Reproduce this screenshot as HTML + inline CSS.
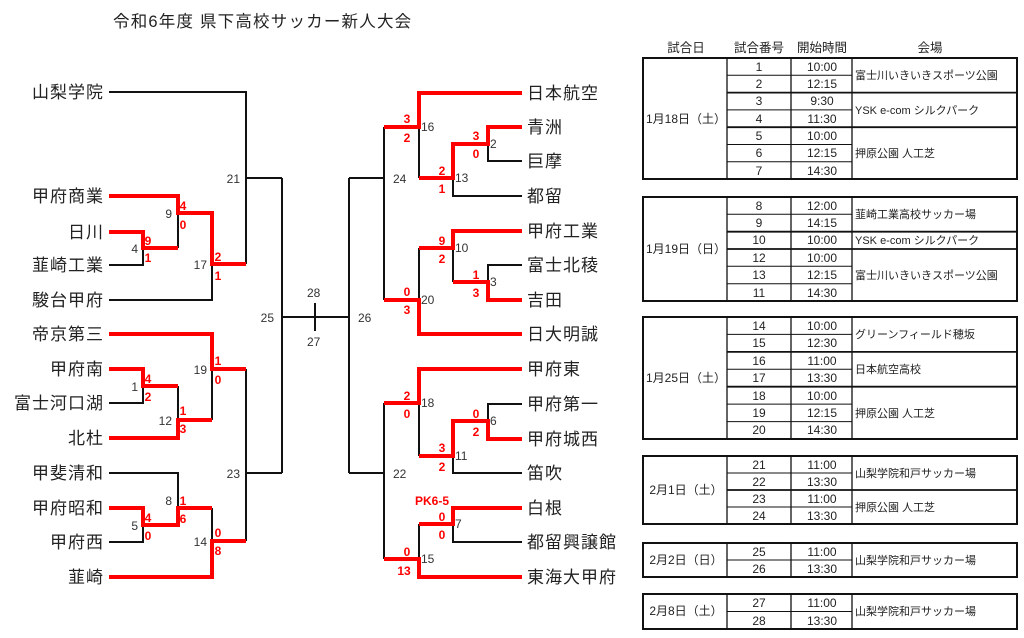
<!DOCTYPE html>
<html><head><meta charset="utf-8"><style>
html,body{margin:0;padding:0;background:#fff;width:1024px;height:638px;overflow:hidden}
svg{display:block;font-family:"Liberation Sans","Noto Sans CJK JP",sans-serif}
.t{font-size:17px;fill:#222;letter-spacing:1px}
.n{font-size:12px;fill:#333}
.s{font-size:12px;fill:#f00;font-weight:bold;text-anchor:middle}
.c{font-size:12px;fill:#222;text-anchor:middle}
.v{font-size:11px;fill:#222}
</style></head><body>
<svg width="1024" height="638" viewBox="0 0 1024 638">
<text x="113" y="27" font-size="16.5" fill="#222" letter-spacing="1.2">令和6年度 県下高校サッカー新人大会</text>

<g fill="none" stroke="#111" stroke-width="2">
<path d="M109 92 H246 V264"/><path d="M246 178 H282"/><path d="M178 213 V248"/>
<path d="M109 265 H143 V248"/><path d="M109 300 H212 V264"/>
<path d="M178 386 V420"/><path d="M109 403 H143 V386"/><path d="M212 369 V420"/>
<path d="M246 369 V541"/><path d="M246 473 H282"/><path d="M109 473 H178 V508"/>
<path d="M212 508 V541"/><path d="M109 542 H143 V525"/>
<path d="M282 178 V473"/><path d="M282 317 H349"/><path d="M315 303 V331"/><path d="M349 178 V473"/>
<path d="M349 178 H384"/><path d="M384 127 V300"/><path d="M419 127 V178"/>
<path d="M522 161 H488 V144"/><path d="M522 196 H453 V178"/><path d="M419 248 V300"/>
<path d="M522 265 H488 V282"/><path d="M453 248 V282"/>
<path d="M349 473 H384"/><path d="M384 403 V559"/><path d="M522 404 H488 V421"/>
<path d="M419 403 V456"/><path d="M522 473 H453 V456"/><path d="M522 542 H453 V524"/><path d="M419 524 V559"/>
</g>
<g fill="none" stroke="#f00" stroke-width="4">
<path d="M109 196 H178 V213 H212 V264 H246"/>
<path d="M109 232 H143 V248 H178"/>
<path d="M109 334 H212 V369 H246"/>
<path d="M109 369 H143 V386 H178"/>
<path d="M109 438 H178 V420 H212"/>
<path d="M109 508 H143 V525 H178 V508 H212"/>
<path d="M109 577 H212 V541 H246"/>
<path d="M522 93 H419 V127 H384"/>
<path d="M522 127 H488 V144 H453 V178 H419"/>
<path d="M522 231 H453 V248 H419"/>
<path d="M522 300 H488 V282 H453"/>
<path d="M522 334 H419 V300 H384"/>
<path d="M522 369 H419 V403 H384"/>
<path d="M522 439 H488 V421 H453 V456 H419"/>
<path d="M522 508 H453 V524 H419"/>
<path d="M522 577 H419 V559 H384"/>
</g>

<g class="t" text-anchor="end">
<text x="104" y="98">山梨学院</text>
<text x="104" y="202">甲府商業</text>
<text x="104" y="238">日川</text>
<text x="104" y="271">韮崎工業</text>
<text x="104" y="306">駿台甲府</text>
<text x="104" y="340">帝京第三</text>
<text x="104" y="375">甲府南</text>
<text x="104" y="409">富士河口湖</text>
<text x="104" y="444">北杜</text>
<text x="104" y="479">甲斐清和</text>
<text x="104" y="514">甲府昭和</text>
<text x="104" y="548">甲府西</text>
<text x="104" y="583">韮崎</text>
</g>
<g class="t">
<text x="527" y="99">日本航空</text>
<text x="527" y="133">青洲</text>
<text x="527" y="167">巨摩</text>
<text x="527" y="202">都留</text>
<text x="527" y="237">甲府工業</text>
<text x="527" y="271">富士北稜</text>
<text x="527" y="306">吉田</text>
<text x="527" y="340">日大明誠</text>
<text x="527" y="375">甲府東</text>
<text x="527" y="410">甲府第一</text>
<text x="527" y="445">甲府城西</text>
<text x="527" y="479">笛吹</text>
<text x="527" y="514">白根</text>
<text x="527" y="548">都留興譲館</text>
<text x="527" y="583">東海大甲府</text>
</g>

<g class="n" text-anchor="end">
<text x="240" y="183">21</text><text x="172" y="218">9</text><text x="138" y="253">4</text><text x="207" y="269">17</text>
<text x="207" y="374">19</text><text x="138" y="391">1</text><text x="172" y="425">12</text>
<text x="240" y="478">23</text><text x="172" y="505">8</text><text x="138" y="530">5</text><text x="207" y="546">14</text>
<text x="274" y="322">25</text>
</g>
<g class="n">
<text x="307" y="297">28</text><text x="307" y="346">27</text>
<text x="358" y="322">26</text><text x="393" y="183">24</text><text x="393" y="478">22</text>
<text x="421" y="131">16</text><text x="490" y="148">2</text><text x="455" y="182">13</text>
<text x="455" y="252">10</text><text x="490" y="286">3</text><text x="421" y="304">20</text>
<text x="421" y="407">18</text><text x="490" y="425">6</text><text x="455" y="460">11</text>
<text x="455" y="528">7</text><text x="421" y="563">15</text>
</g>
<g class="s">
<text x="183" y="210">4</text><text x="183" y="229">0</text>
<text x="148" y="245">9</text><text x="148" y="262">1</text>
<text x="218" y="261">2</text><text x="218" y="280">1</text>
<text x="218" y="365">1</text><text x="218" y="384">0</text>
<text x="148" y="383">4</text><text x="148" y="401">2</text>
<text x="183" y="415">1</text><text x="183" y="433">3</text>
<text x="183" y="505">1</text><text x="183" y="523">6</text>
<text x="148" y="522">4</text><text x="148" y="540">0</text>
<text x="218" y="537">0</text><text x="218" y="555">8</text>
<text x="407" y="123">3</text><text x="407" y="142">2</text>
<text x="476" y="140">3</text><text x="476" y="158">0</text>
<text x="442" y="175">2</text><text x="442" y="193">1</text>
<text x="442" y="245">9</text><text x="442" y="263">2</text>
<text x="476" y="279">1</text><text x="476" y="297">3</text>
<text x="407" y="296">0</text><text x="407" y="314">3</text>
<text x="407" y="400">2</text><text x="407" y="418">0</text>
<text x="476" y="418">0</text><text x="476" y="436">2</text>
<text x="442" y="452">3</text><text x="442" y="471">2</text>
<text x="432" y="505">PK6-5</text>
<text x="442" y="521">0</text><text x="442" y="539">0</text>
<text x="407" y="556">0</text><text x="404" y="575">13</text>
</g>

<g class="c" font-size="12.5">
<text x="686" y="52" font-size="12.5">試合日</text><text x="759" y="52" font-size="12.5">試合番号</text><text x="822" y="52" font-size="12.5">開始時間</text><text x="930" y="52" font-size="12.5">会場</text>
</g>

<g fill="none" stroke="#111">
<rect x="643" y="58" width="374" height="121" stroke-width="2"/>
<path d="M727 58 V179 M791 58 V179 M852 58 V179" stroke-width="1.3"/>
<path d="M727 75.3 H852 M727 109.9 H852 M727 144.5 H852 M727 161.8 H852" stroke-width="1"/>
<path d="M727 92.6 H1017 M727 127.2 H1017" stroke-width="1.8"/>
</g>
<g class="c">
<text x="686" y="123">1月18日（土）</text>
<text x="759" y="71">1</text><text x="822" y="71">10:00</text>
<text x="759" y="88">2</text><text x="822" y="88">12:15</text>
<text x="759" y="105">3</text><text x="822" y="105">9:30</text>
<text x="759" y="123">4</text><text x="822" y="123">11:30</text>
<text x="759" y="140">5</text><text x="822" y="140">10:00</text>
<text x="759" y="157">6</text><text x="822" y="157">12:15</text>
<text x="759" y="175">7</text><text x="822" y="175">14:30</text>
</g>
<g class="v">
<text x="855" y="79">富士川いきいきスポーツ公園</text>
<text x="855" y="114">YSK e-com シルクパーク</text>
<text x="855" y="157">押原公園 人工芝</text>
</g>

<g fill="none" stroke="#111">
<rect x="643" y="197" width="374" height="104" stroke-width="2"/>
<path d="M727 197 V301 M791 197 V301 M852 197 V301" stroke-width="1.3"/>
<path d="M727 214.3 H852 M727 266.3 H852 M727 283.7 H852" stroke-width="1"/>
<path d="M727 231.7 H1017 M727 249 H1017" stroke-width="1.8"/>
</g>
<g class="c">
<text x="686" y="253">1月19日（日）</text>
<text x="759" y="210">8</text><text x="822" y="210">12:00</text>
<text x="759" y="227">9</text><text x="822" y="227">14:15</text>
<text x="759" y="244">10</text><text x="822" y="244">10:00</text>
<text x="759" y="262">12</text><text x="822" y="262">10:00</text>
<text x="759" y="279">13</text><text x="822" y="279">12:15</text>
<text x="759" y="297">11</text><text x="822" y="297">14:30</text>
</g>
<g class="v">
<text x="855" y="218">韮崎工業高校サッカー場</text>
<text x="855" y="244">YSK e-com シルクパーク</text>
<text x="855" y="279">富士川いきいきスポーツ公園</text>
</g>

<g fill="none" stroke="#111">
<rect x="643" y="317" width="374" height="122" stroke-width="2"/>
<path d="M727 317 V439 M791 317 V439 M852 317 V439" stroke-width="1.3"/>
<path d="M727 334.4 H852 M727 369.3 H852 M727 404.1 H852 M727 421.6 H852" stroke-width="1"/>
<path d="M727 351.9 H1017 M727 386.7 H1017" stroke-width="1.8"/>
</g>
<g class="c">
<text x="686" y="382">1月25日（土）</text>
<text x="759" y="330">14</text><text x="822" y="330">10:00</text>
<text x="759" y="347">15</text><text x="822" y="347">12:30</text>
<text x="759" y="365">16</text><text x="822" y="365">11:00</text>
<text x="759" y="382">17</text><text x="822" y="382">13:30</text>
<text x="759" y="400">18</text><text x="822" y="400">10:00</text>
<text x="759" y="417">19</text><text x="822" y="417">12:15</text>
<text x="759" y="434">20</text><text x="822" y="434">14:30</text>
</g>
<g class="v">
<text x="855" y="338">グリーンフィールド穂坂</text>
<text x="855" y="373">日本航空高校</text>
<text x="855" y="417">押原公園 人工芝</text>
</g>

<g fill="none" stroke="#111">
<rect x="643" y="456" width="374" height="68" stroke-width="2"/>
<path d="M727 456 V524 M791 456 V524 M852 456 V524" stroke-width="1.3"/>
<path d="M727 473 H852 M727 507 H852" stroke-width="1"/>
<path d="M727 490 H1017" stroke-width="1.8"/>
</g>
<g class="c">
<text x="686" y="494">2月1日（土）</text>
<text x="759" y="469">21</text><text x="822" y="469">11:00</text>
<text x="759" y="486">22</text><text x="822" y="486">13:30</text>
<text x="759" y="503">23</text><text x="822" y="503">11:00</text>
<text x="759" y="520">24</text><text x="822" y="520">13:30</text>
</g>
<g class="v">
<text x="855" y="477">山梨学院和戸サッカー場</text>
<text x="855" y="511">押原公園 人工芝</text>
</g>

<g fill="none" stroke="#111">
<rect x="643" y="543" width="374" height="34" stroke-width="2"/>
<path d="M727 543 V577 M791 543 V577 M852 543 V577" stroke-width="1.3"/>
<path d="M727 560 H852" stroke-width="1"/>
</g>
<g class="c">
<text x="686" y="564">2月2日（日）</text>
<text x="759" y="556">25</text><text x="822" y="556">11:00</text>
<text x="759" y="573">26</text><text x="822" y="573">13:30</text>
</g>
<text class="v" x="855" y="564">山梨学院和戸サッカー場</text>

<g fill="none" stroke="#111">
<rect x="643" y="594" width="374" height="35" stroke-width="2"/>
<path d="M727 594 V629 M791 594 V629 M852 594 V629" stroke-width="1.3"/>
<path d="M727 611.5 H852" stroke-width="1"/>
</g>
<g class="c">
<text x="686" y="615">2月8日（土）</text>
<text x="759" y="607">27</text><text x="822" y="607">11:00</text>
<text x="759" y="625">28</text><text x="822" y="625">13:30</text>
</g>
<text class="v" x="855" y="615">山梨学院和戸サッカー場</text>
</svg>
</body></html>
